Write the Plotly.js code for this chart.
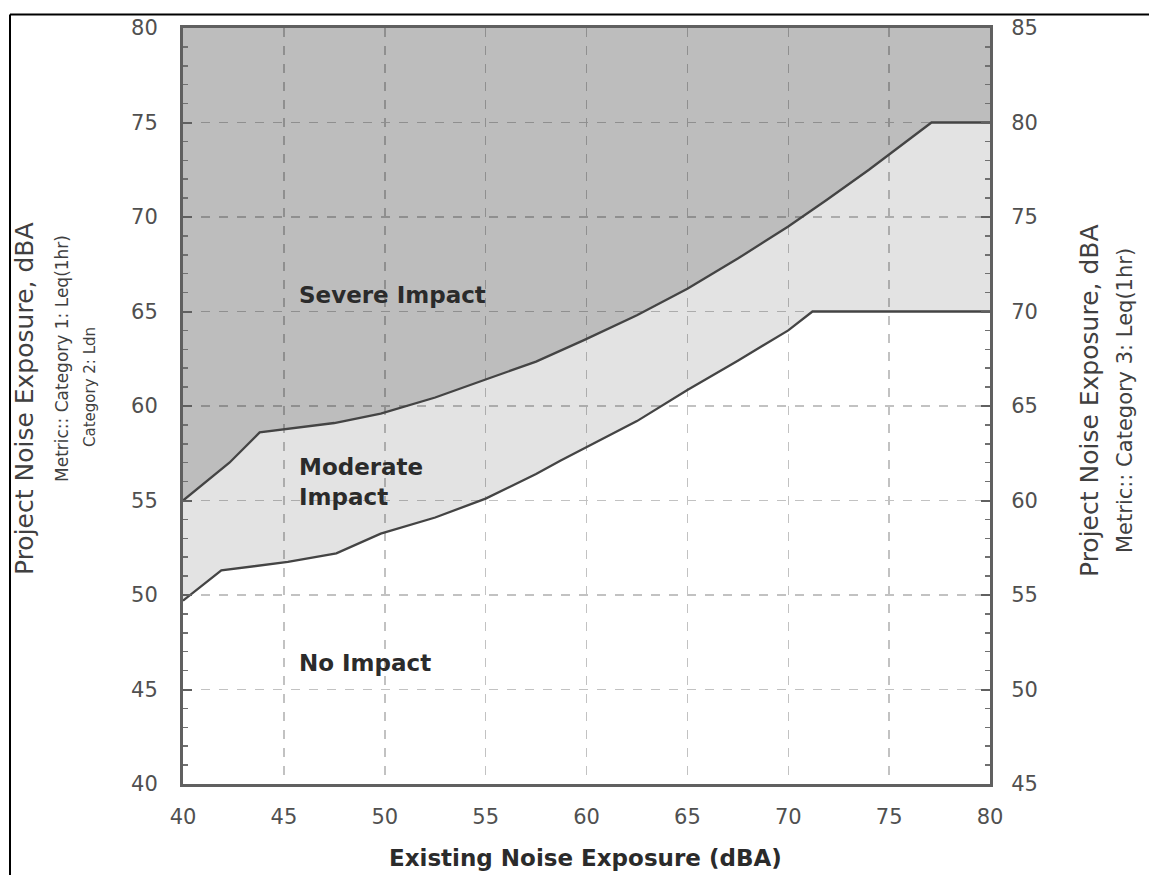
<!DOCTYPE html>
<html>
<head>
<meta charset="utf-8">
<script src="https://cdn.plot.ly/plotly-3.0.1.min.js"></script>
<style>
html,body{margin:0;padding:0;background:#ffffff;overflow:hidden;}
#chart{width:1149px;height:875px;}
</style>
</head>
<body>
<div id="chart"></div>
<script>
// ---- data ----
const xTicks = [40, 45, 50, 55, 60, 65, 70, 75, 80];
const yLeftTicks = [40, 45, 50, 55, 60, 65, 70, 75, 80];
const yRightTicks = [45, 50, 55, 60, 65, 70, 75, 80, 85];

// Severe impact threshold (upper curve)
const severeX = [40, 42.3, 43.8, 45.2, 47.5, 49.8, 52.5, 55.0, 57.5, 59.9, 62.5, 65.0, 67.5, 70.0, 71.9, 74.0, 77.1, 80];
const severeY = [55, 57.0, 58.6, 58.8, 59.1, 59.6, 60.45, 61.4, 62.35, 63.5, 64.8, 66.2, 67.8, 69.5, 70.9, 72.5, 75.0, 75.0];

// Moderate impact threshold (lower curve)
const moderateX = [40, 41.9, 45.2, 47.6, 49.8, 52.5, 55.0, 57.5, 58.7, 59.9, 62.5, 65.0, 67.5, 70.0, 71.2, 80];
const moderateY = [49.7, 51.3, 51.75, 52.2, 53.25, 54.1, 55.1, 56.4, 57.1, 57.75, 59.2, 60.85, 62.4, 64.0, 65.0, 65.0];

const regionLabels = ["Severe Impact", "Moderate<br>Impact", "No Impact"];
const xTitle = "Existing Noise Exposure (dBA)";
const leftTitle = ["Project Noise Exposure, dBA", "Metric:: Category 1: Leq(1hr)", "Category 2: Ldn"];
const rightTitle = ["Project Noise Exposure, dBA", "Metric:: Category 3: Leq(1hr)"];
const figTitle = "Figure 3-10: Noise Impact Criteria for Transit Projects";

// ---- styling ----
const lineCol = '#444444';
const moderateFill = 'rgba(0,0,0,0.11)';
const severeFill = 'rgba(0,0,0,0.26)';
const xMin = xTicks[0], xMax = xTicks[xTicks.length - 1];
const yTop = yLeftTicks[yLeftTicks.length - 1];

const traces = [
  {x: moderateX, y: moderateY, mode: 'lines', line: {width: 0}, hoverinfo: 'skip'},
  {x: severeX, y: severeY, mode: 'lines', line: {width: 0}, fill: 'tonexty', fillcolor: moderateFill, hoverinfo: 'skip'},
  {x: [xMin, xMax], y: [yTop, yTop], mode: 'lines', line: {width: 0}, fill: 'tonexty', fillcolor: severeFill, hoverinfo: 'skip'},
  {x: moderateX, y: moderateY, mode: 'lines', line: {color: lineCol, width: 2.3}, hoverinfo: 'skip'},
  {x: severeX, y: severeY, mode: 'lines', line: {color: lineCol, width: 2.3}, hoverinfo: 'skip'},
  {x: [xMin], y: [yRightTicks[0]], yaxis: 'y2', mode: 'markers', marker: {opacity: 0}, hoverinfo: 'skip'}
];

const tickFont = {family: 'DejaVu Sans', size: 21, color: '#505050'};
const labFont = {family: 'DejaVu Sans', size: 23, color: '#2b2b2b', weight: 'bold'};

// plot area in pixels: left 183, right 990, top 28, bottom 784
const L = 183, R = 990, T = 28, B = 784;
const px = v => (v - L) / (R - L);
const py = v => (B - v) / (B - T);

const layout = {
  width: 1149, height: 875,
  margin: {l: L, r: 1149 - R, t: T, b: 875 - B, pad: 0},
  paper_bgcolor: '#ffffff',
  plot_bgcolor: '#ffffff',
  showlegend: false,
  hovermode: false,
  xaxis: {
    range: [xMin, xMax], tickvals: xTicks, ticktext: xTicks.map(String),
    showgrid: true, gridcolor: '#c2c2c2', griddash: 'dash', gridwidth: 1.5,
    showline: true, linecolor: '#606060', linewidth: 3, mirror: true,
    ticks: '', tickfont: tickFont, ticklabelstandoff: 12, zeroline: false, fixedrange: true
  },
  yaxis: {
    range: [yLeftTicks[0], yTop], tickvals: yLeftTicks, ticktext: yLeftTicks.map(String),
    showgrid: true, gridcolor: '#c2c2c2', griddash: 'dash', gridwidth: 1.5,
    showline: true, linecolor: '#606060', linewidth: 3,
    ticks: 'inside', ticklen: 9, tickwidth: 2, tickcolor: '#606060',
    minor: {dtick: 1, ticks: 'inside', ticklen: 5, tickwidth: 1.5, tickcolor: '#707070', showgrid: false},
    tickfont: tickFont, ticklabelstandoff: 18, zeroline: false, fixedrange: true
  },
  yaxis2: {
    overlaying: 'y', side: 'right',
    range: [yRightTicks[0], yRightTicks[yRightTicks.length - 1]], tickvals: yRightTicks, ticktext: yRightTicks.map(String),
    showgrid: false, showline: true, linecolor: '#606060', linewidth: 3,
    ticks: 'inside', ticklen: 9, tickwidth: 2, tickcolor: '#606060',
    minor: {dtick: 1, ticks: 'inside', ticklen: 5, tickwidth: 1.5, tickcolor: '#707070', showgrid: false},
    tickfont: tickFont, ticklabelstandoff: 14, zeroline: false, fixedrange: true
  },
  shapes: [
    {type: 'line', xref: 'paper', yref: 'paper', x0: px(10), x1: px(10), y0: py(1000), y1: py(14.5),
     line: {color: '#000000', width: 2}, layer: 'above'},
    {type: 'line', xref: 'paper', yref: 'paper', x0: px(10), x1: px(1400), y0: py(14.5), y1: py(14.5),
     line: {color: '#000000', width: 2}, layer: 'above'}
  ],
  annotations: [
    {text: regionLabels[0], x: 45.65, y: 65.87, xref: 'x', yref: 'y', xanchor: 'left', yanchor: 'middle', showarrow: false, font: labFont},
    {text: regionLabels[1], x: 45.65, y: 56.0, xref: 'x', yref: 'y', xanchor: 'left', yanchor: 'middle', align: 'left', showarrow: false, font: labFont},
    {text: regionLabels[2], x: 45.65, y: 46.4, xref: 'x', yref: 'y', xanchor: 'left', yanchor: 'middle', showarrow: false, font: labFont},
    {text: xTitle, x: px(585), y: py(858), xref: 'paper', yref: 'paper', xanchor: 'center', yanchor: 'middle', showarrow: false,
     font: {family: 'DejaVu Sans', size: 23, color: '#2b2b2b', weight: 'bold'}},
    {text: leftTitle[0], x: px(25), y: py(399), xref: 'paper', yref: 'paper', xanchor: 'center', yanchor: 'middle', textangle: -90, showarrow: false,
     font: {family: 'DejaVu Sans', size: 25, color: '#404040'}},
    {text: leftTitle[1], x: px(62), y: py(359), xref: 'paper', yref: 'paper', xanchor: 'center', yanchor: 'middle', textangle: -90, showarrow: false,
     font: {family: 'DejaVu Sans', size: 17, color: '#404040'}},
    {text: leftTitle[2], x: px(90), y: py(387), xref: 'paper', yref: 'paper', xanchor: 'center', yanchor: 'middle', textangle: -90, showarrow: false,
     font: {family: 'DejaVu Sans', size: 15, color: '#404040'}},
    {text: rightTitle[0], x: px(1089), y: py(401), xref: 'paper', yref: 'paper', xanchor: 'center', yanchor: 'middle', textangle: -90, showarrow: false,
     font: {family: 'DejaVu Sans', size: 25, color: '#404040'}},
    {text: rightTitle[1], x: px(1125), y: py(401), xref: 'paper', yref: 'paper', xanchor: 'center', yanchor: 'middle', textangle: -90, showarrow: false,
     font: {family: 'DejaVu Sans', size: 21, color: '#404040'}},
    {text: figTitle, x: px(5), y: py(0.5), xref: 'paper', yref: 'paper', xanchor: 'left', yanchor: 'bottom', borderpad: 0, showarrow: false,
     font: {family: 'Liberation Serif', size: 35, color: '#2e5597', weight: 'bold'}}
  ]
};

Plotly.newPlot('chart', traces, layout, {displayModeBar: false, staticPlot: true});
</script>
</body>
</html>
